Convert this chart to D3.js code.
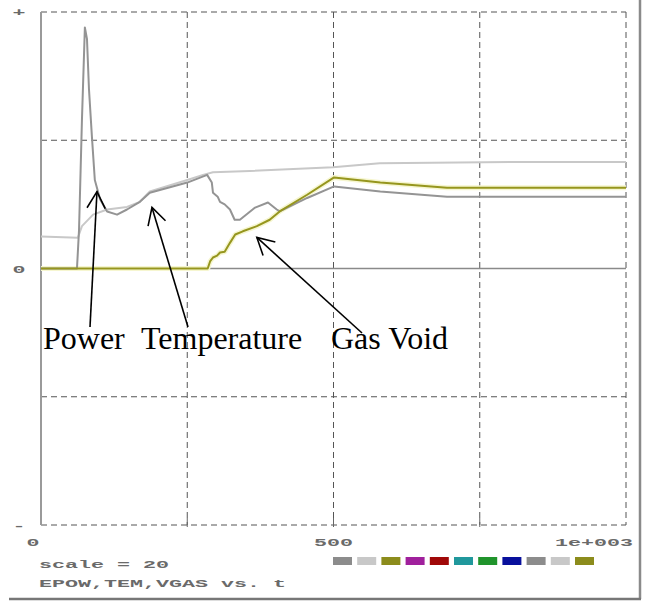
<!DOCTYPE html>
<html>
<head>
<meta charset="utf-8">
<script src="https://cdn.jsdelivr.net/npm/d3@7"></script>
<style>
  body { margin: 0; background: #fff; }
  svg { display: block; }
</style>
</head>
<body>
<div id="chart"></div>
<script>
// series values, [time, value]
const powerData = [
    [0, 0], [61.5, 0], [65, 3.0], [70, 11.6], [75, 18.8], [78.6, 17.9], [82, 14.0],
    [87, 10.3], [92, 6.9], [101, 5.4], [113, 4.45], [130, 4.2], [147, 4.6], [169, 5.2],
    [186, 5.9], [250, 6.7], [284, 7.3], [292, 6.7], [294, 5.9], [302, 5.6], [306, 5.2],
    [314, 5.0], [323, 4.6], [331, 3.8], [340, 3.8], [366, 4.75], [388, 5.15], [403, 4.6],
    [408, 4.45], [455, 5.5], [501, 6.4], [580, 6.0], [694, 5.6], [1000, 5.6]
];
const temperatureData = [
    [0, 2.5], [63, 2.4], [70, 3.3], [89, 4.2], [113, 4.6], [147, 4.8], [169, 5.2],
    [186, 6.0], [250, 6.9], [277, 7.3], [294, 7.5], [357, 7.6], [499, 7.9], [579, 8.2],
    [802, 8.3], [1000, 8.3]
];
const gasVoidData = [
    [0, 0], [285, 0], [289, 0.55], [294, 0.86], [301, 1.0], [306, 1.25], [314, 1.3],
    [323, 2.0], [332, 2.65], [345, 2.9], [369, 3.3], [391, 3.8], [408, 4.45], [455, 5.75],
    [501, 7.1], [580, 6.7], [694, 6.3], [1000, 6.3]
];

// axis and legend text
const xTickLabels = ["0", "500", "1e+003"];
const xTickValues = [0, 500, 1000];
const yTickLabels = ["+", "0", "-"];
const yTickValues = [20, 0, -20];
const scaleLabel = "scale = 20";
const varsLabel = "EPOW,TEM,VGAS vs. t";
const legendColors = ["#8c8c8c", "#c8c8c8", "#8c8c1c", "#a0209c", "#a00808", "#20989c",
    "#20942c", "#08109c", "#8c8c8c", "#c8c8c8", "#8c8c1c"];

// curve annotations: label text and the data point the arrow points at
const annoLabels = ["Power", "Temperature", "Gas Void"];
const annoTargets = [[95.7, 6.0], [189.7, 4.76], [369, 2.42]];

// layout
const W = 645, H = 602;
const plot = {left: 41, right: 626, top: 12, bottom: 525};
const annoLabelX = [43, 141, 331];
const annoTails = [[90, 327], [188, 327], [362, 333]];

const svg = d3.select("#chart").append("svg")
    .attr("width", W)
    .attr("height", H);

const x = d3.scaleLinear().domain([0, 1000]).range([plot.left, plot.right]);
const y = d3.scaleLinear().domain([-20, 20]).range([plot.bottom, plot.top]);

// window frame shadow
svg.append("line")
    .attr("x1", 640).attr("x2", 640).attr("y1", 0).attr("y2", 599)
    .attr("stroke", "#8a8a8a").attr("stroke-width", 2.5);
svg.append("line")
    .attr("x1", 9).attr("x2", 641).attr("y1", 599).attr("y2", 599)
    .attr("stroke", "#777").attr("stroke-width", 2.5);

// dashed grid
const grid = svg.append("g").attr("stroke", "#555").attr("stroke-width", 1)
    .attr("stroke-dasharray", "6,4").attr("fill", "none");
grid.selectAll(".vgrid")
    .data([250, 500, 750, 1000])
    .enter().append("line")
    .attr("x1", d => x(d)).attr("x2", d => x(d))
    .attr("y1", plot.top).attr("y2", plot.bottom);
grid.selectAll(".hgrid")
    .data([20, 10, -10, -20])
    .enter().append("line")
    .attr("x1", plot.left).attr("x2", plot.right)
    .attr("y1", d => y(d)).attr("y2", d => y(d));

// small solid ticks at the bottom
svg.selectAll(".xtick")
    .data([250, 500, 750])
    .enter().append("line")
    .attr("x1", d => x(d)).attr("x2", d => x(d))
    .attr("y1", plot.bottom - 7).attr("y2", plot.bottom + 2)
    .attr("stroke", "#666").attr("stroke-width", 1);

// zero line and left axis
svg.append("line")
    .attr("x1", plot.left).attr("x2", plot.right)
    .attr("y1", y(0)).attr("y2", y(0))
    .attr("stroke", "#8a8a8a").attr("stroke-width", 1.5);
svg.append("line")
    .attr("x1", plot.left).attr("x2", plot.left)
    .attr("y1", plot.top).attr("y2", plot.bottom)
    .attr("stroke", "#9a9a9a").attr("stroke-width", 2);

const line = d3.line().x(d => x(d[0])).y(d => y(d[1]));

// curves
svg.append("path").datum(gasVoidData)
    .attr("d", line).attr("fill", "none")
    .attr("stroke", "#f6f6d0").attr("stroke-width", 5).attr("stroke-linejoin", "round");
svg.append("path").datum(temperatureData)
    .attr("d", line).attr("fill", "none")
    .attr("stroke", "#c8c8c8").attr("stroke-width", 2).attr("stroke-linejoin", "round");
svg.append("path").datum(powerData)
    .attr("d", line).attr("fill", "none")
    .attr("stroke", "#949494").attr("stroke-width", 2).attr("stroke-linejoin", "round");
svg.append("path").datum(gasVoidData)
    .attr("d", line).attr("fill", "none")
    .attr("stroke", "#96961e").attr("stroke-width", 2).attr("stroke-linejoin", "round");

// wide bitmap-like axis text
const mono = "'Liberation Mono', 'DejaVu Sans Mono', monospace";
function wideText(tx, ty, str, anchor) {
    svg.append("text")
        .attr("x", tx).attr("y", ty)
        .attr("text-anchor", anchor || "start")
        .attr("textLength", str.length * 13)
        .attr("lengthAdjust", "spacingAndGlyphs")
        .style("font-family", mono)
        .style("font-weight", "bold")
        .style("font-size", "11px")
        .style("fill", "#6a6a6a")
        .text(str);
}

wideText(x(xTickValues[0]) - 8, 546, xTickLabels[0], "middle");
wideText(x(xTickValues[1]), 546, xTickLabels[1], "middle");
wideText(x(xTickValues[2]) + 7, 546, xTickLabels[2], "end");
yTickLabels.forEach((t, i) => wideText(19, y(yTickValues[i]) + 4, t, "middle"));
wideText(39, 568, scaleLabel);
wideText(39, 587, varsLabel);

// colour swatches
svg.selectAll(".swatch")
    .data(legendColors)
    .enter().append("rect")
    .attr("x", (d, i) => 333 + i * 24.2)
    .attr("y", 557)
    .attr("width", 19)
    .attr("height", 8)
    .attr("fill", d => d);

// annotations with arrows
annoLabels.forEach((label, i) => {
    svg.append("text")
        .attr("x", annoLabelX[i]).attr("y", 349)
        .style("font-family", "'Liberation Serif', 'Times New Roman', serif")
        .style("font-size", "32px")
        .style("fill", "#000")
        .text(label);

    const tip = [x(annoTargets[i][0]), y(annoTargets[i][1])];
    const tail = annoTails[i];
    svg.append("line")
        .attr("x1", tail[0]).attr("y1", tail[1])
        .attr("x2", tip[0]).attr("y2", tip[1])
        .attr("stroke", "#000").attr("stroke-width", 1.6);

    // open arrow head
    const ang = Math.atan2(tail[1] - tip[1], tail[0] - tip[0]);
    const len = 19, spread = 0.5;
    const head = [
        [tip[0] + len * Math.cos(ang - spread), tip[1] + len * Math.sin(ang - spread)],
        tip,
        [tip[0] + len * Math.cos(ang + spread), tip[1] + len * Math.sin(ang + spread)]
    ];
    svg.append("path")
        .attr("d", d3.line()(head))
        .attr("fill", "none")
        .attr("stroke", "#000").attr("stroke-width", 1.6);
});
</script>
</body>
</html>
